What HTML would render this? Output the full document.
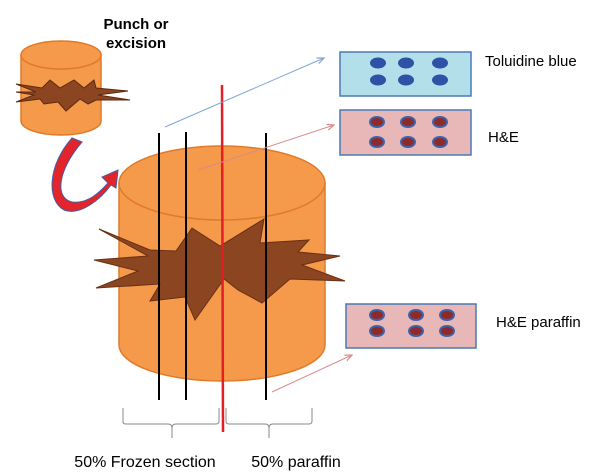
<!DOCTYPE html>
<html><head><style>body{margin:0;background:#fff}svg{display:block}text{font-family:"Liberation Sans",sans-serif}</style></head><body>
<svg width="600" height="476" viewBox="0 0 600 476">
<defs>
<marker id="ab" markerWidth="8" markerHeight="8" refX="7" refY="4" orient="auto"><path d="M0,1 L7,4 L0,7" fill="none" stroke="#7fa6d6" stroke-width="1.2"/></marker>
<marker id="ap" markerWidth="8" markerHeight="8" refX="7" refY="4" orient="auto"><path d="M0,1 L7,4 L0,7" fill="none" stroke="#d88a8a" stroke-width="1.2"/></marker>
</defs>
<text x="136" y="29" font-size="15" font-weight="bold" text-anchor="middle">Punch or</text>
<text x="136" y="48" font-size="15" font-weight="bold" text-anchor="middle">excision</text>
<!-- small cylinder -->
<path d="M21,55 L21,121 A40,14 0 0 0 101,121 L101,55 Z" fill="#f49a4a" stroke="#e07a28" stroke-width="1.5"/>
<ellipse cx="61" cy="55" rx="40" ry="14" fill="#f49a4a" stroke="#e07a28" stroke-width="1.5"/>
<polygon points="16,84 42,88 50,80 60,88 74,80 84,88 94,80 96,88 128,91 98,95 130,100 96,100 88,104 80,99 66,111 58,102 44,104 40,99 16,102 34,95 16,92 36,92" fill="#8b4520" stroke="#5e2a10" stroke-width="1"/>
<!-- curved arrow -->
<path d="M72,138 L82,142 C58,170 54,198 72,202 C88,204 100,192 108,183 L102,177 L118,170 L116,188 L111,185 C100,200 80,216 64,210 C46,200 48,165 72,138 Z" fill="#e4242b" stroke="#3c5ea8" stroke-width="1"/>
<!-- big cylinder -->
<path d="M119,183 L119,345 A103,36 0 0 0 325,345 L325,183 Z" fill="#f49a4a" stroke="#e07a28" stroke-width="1.5"/>
<ellipse cx="222" cy="183" rx="103" ry="37" fill="#f49a4a" stroke="#e07a28" stroke-width="1.5"/>
<polygon points="99,229 150,250 176,251 192,228 220,246 264,219 260,243 309,240 298,252 340,256 302,265 345,281 290,279 262,303 238,290 224,279 195,320 185,297 150,301 160,284 96,288 138,271 94,260 148,256" fill="#8b4520" stroke="#6a3015" stroke-width="1"/>
<!-- lines -->
<line x1="159" y1="133" x2="159" y2="400" stroke="#000" stroke-width="2"/>
<line x1="186" y1="132" x2="186" y2="400" stroke="#000" stroke-width="2"/>
<line x1="266" y1="133" x2="266" y2="400" stroke="#000" stroke-width="2"/>
<line x1="222" y1="85" x2="223" y2="432" stroke="#e41e26" stroke-width="2.5"/>
<!-- arrows -->
<line x1="165" y1="127" x2="324" y2="58" stroke="#7fa6d6" stroke-width="1" marker-end="url(#ab)"/>
<line x1="198" y1="170" x2="334" y2="125" stroke="#d88a8a" stroke-width="1" marker-end="url(#ap)"/>
<line x1="272" y1="392" x2="352" y2="355" stroke="#d88a8a" stroke-width="1" marker-end="url(#ap)"/>
<!-- brackets -->
<path d="M123,408 V422 Q123,424 126,424 H168 Q172,424 172,428 V438 M172,428 Q172,424 176,424 H216 Q219,424 219,421 V408" fill="none" stroke="#888" stroke-width="1"/>
<path d="M226,408 V421 Q226,424 229,424 H265 Q269,424 269,428 V438 M269,428 Q269,424 273,424 H309 Q312,424 312,421 V408" fill="none" stroke="#888" stroke-width="1"/>
<text x="145" y="467" font-size="16" text-anchor="middle">50% Frozen section</text>
<text x="296" y="467" font-size="16" text-anchor="middle">50% paraffin</text>
<!-- slides -->
<rect x="340" y="52" width="131" height="44" fill="#b3dfeb" stroke="#4a78b4" stroke-width="1.5"/>
<g fill="#2e52a6">
<ellipse cx="378" cy="63" rx="8" ry="5.5"/><ellipse cx="406" cy="63" rx="8" ry="5.5"/><ellipse cx="440" cy="63" rx="8" ry="5.5"/>
<ellipse cx="378" cy="80" rx="8" ry="5.5"/><ellipse cx="406" cy="80" rx="8" ry="5.5"/><ellipse cx="440" cy="80" rx="8" ry="5.5"/>
</g>
<rect x="340" y="110" width="131" height="45" fill="#e8b7b7" stroke="#4a78b4" stroke-width="1.5"/>
<g fill="#8e2a2a" stroke="#3e62aa" stroke-width="2">
<ellipse cx="377" cy="122" rx="7" ry="5"/><ellipse cx="408" cy="122" rx="7" ry="5"/><ellipse cx="440" cy="122" rx="7" ry="5"/>
<ellipse cx="377" cy="142" rx="7" ry="5"/><ellipse cx="408" cy="142" rx="7" ry="5"/><ellipse cx="440" cy="142" rx="7" ry="5"/>
</g>
<rect x="346" y="304" width="130" height="44" fill="#e8b7b7" stroke="#4a78b4" stroke-width="1.5"/>
<g fill="#8e2a2a" stroke="#3e62aa" stroke-width="2">
<ellipse cx="377" cy="315" rx="7" ry="5"/><ellipse cx="416" cy="315" rx="7" ry="5"/><ellipse cx="447" cy="315" rx="7" ry="5"/>
<ellipse cx="377" cy="331" rx="7" ry="5"/><ellipse cx="416" cy="331" rx="7" ry="5"/><ellipse cx="447" cy="331" rx="7" ry="5"/>
</g>
<text x="485" y="66" font-size="15">Toluidine blue</text>
<text x="488" y="142" font-size="15">H&amp;E</text>
<text x="496" y="327" font-size="15">H&amp;E paraffin</text>
</svg>
</body></html>
